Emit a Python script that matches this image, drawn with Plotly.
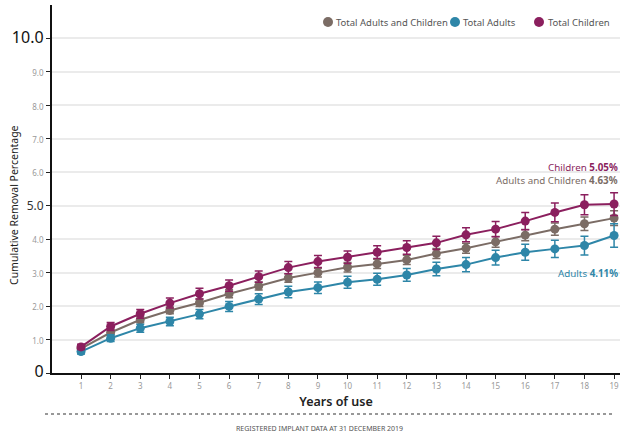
import plotly.graph_objects as go

years = list(range(1, 20))
year_labels = [str(y) for y in years]

total_all = [0.73, 1.21, 1.59, 1.87, 2.10, 2.37, 2.60, 2.84, 3.00, 3.16, 3.26, 3.38, 3.57, 3.73, 3.92, 4.12, 4.30, 4.46, 4.63]
total_all_err = [0.05, 0.08, 0.09, 0.10, 0.11, 0.12, 0.12, 0.13, 0.13, 0.14, 0.14, 0.14, 0.15, 0.15, 0.16, 0.17, 0.18, 0.20, 0.22]

adults = [0.64, 1.04, 1.34, 1.54, 1.76, 1.99, 2.21, 2.42, 2.55, 2.71, 2.80, 2.93, 3.11, 3.24, 3.45, 3.61, 3.71, 3.81, 4.11]
adults_err = [0.07, 0.10, 0.12, 0.13, 0.14, 0.15, 0.16, 0.17, 0.17, 0.18, 0.18, 0.19, 0.20, 0.21, 0.22, 0.24, 0.26, 0.28, 0.35]

children = [0.78, 1.39, 1.77, 2.09, 2.37, 2.61, 2.88, 3.15, 3.33, 3.46, 3.61, 3.75, 3.89, 4.13, 4.30, 4.54, 4.80, 5.03, 5.05]
children_err = [0.08, 0.12, 0.13, 0.15, 0.16, 0.17, 0.17, 0.18, 0.18, 0.19, 0.19, 0.20, 0.20, 0.21, 0.23, 0.26, 0.28, 0.30, 0.34]

y_ticks = [0, 1, 2, 3, 4, 5, 6, 7, 8, 9, 10]
y_tick_labels = ["0", "1.0", "2.0", "3.0", "4.0", "5.0", "6.0", "7.0", "8.0", "9.0", "10.0"]

series_names = ["Total Adults and Children", "Total Adults", "Total Children"]

C_ALL = "#7b6c65"
C_AD = "#2e86a8"
C_CH = "#8b1f5e"
FONT = "Noto Sans"

fig = go.Figure()

for name, vals, err, col in [
    (series_names[0], total_all, total_all_err, C_ALL),
    (series_names[1], adults, adults_err, C_AD),
    (series_names[2], children, children_err, C_CH),
]:
    fig.add_trace(go.Scatter(
        x=years, y=vals, mode="lines+markers", name=name, showlegend=False,
        line=dict(color=col, width=2),
        marker=dict(color=col, size=9),
        error_y=dict(type="data", array=err, visible=True, color=col, thickness=1.5, width=4),
    ))

def fmt_tick(lbl):
    if lbl in ("0", "10.0"):
        return f'<span style="font-size:16px;color:#111">{lbl}</span>'
    if lbl == "5.0":
        return f'<span style="font-size:12px;color:#333">{lbl}</span>'
    return f'<span style="font-size:8px;color:#999">{lbl}</span>'

W, H = 620, 438
ML, MR, MT, MB = 52, 0, 5, 65
PW, PH = W - ML - MR, H - MT - MB

def px_x(px):
    return (px - ML) / PW

def px_y(py):
    return (H - MB - py) / PH

fig.update_layout(
    width=W, height=H,
    margin=dict(l=ML, r=MR, t=MT, b=MB),
    plot_bgcolor="white", paper_bgcolor="white",
    font=dict(family=FONT, color="#333"),
    showlegend=False,
    xaxis=dict(
        range=[0.02, 19.2], tickmode="array", tickvals=years, ticktext=year_labels,
        tickfont=dict(size=8, color="#999"), ticks="outside", ticklen=4, tickcolor="#222",
        showgrid=False, zeroline=False, showline=True, linecolor="#111", linewidth=2,
        title=dict(text="Years of use", font=dict(size=12.5, color="#222", weight=600), standoff=8),
    ),
    yaxis=dict(
        range=[0, 11.0], tickmode="array", tickvals=y_ticks,
        ticktext=[fmt_tick(l) for l in y_tick_labels],
        ticks="outside", ticklen=4, tickcolor="#222",
        showgrid=True, gridcolor="#ebebeb", gridwidth=1.5,
        zeroline=False, showline=True, linecolor="#111", linewidth=2,
    ),
)

# y axis title
fig.add_annotation(x=px_x(14), xref="paper", y=px_y(205), yref="paper",
                   xanchor="center", yanchor="middle",
                   text="Cumulative Removal Percentage", textangle=-90, showarrow=False,
                   font=dict(size=10.5, color="#222"))

# manual legend
for name, col, mx, tx in [
    (series_names[0], C_ALL, 328, 334),
    (series_names[1], C_AD, 455, 461),
    (series_names[2], C_CH, 539, 546),
]:
    fig.add_shape(type="circle", xref="paper", yref="paper",
                  xsizemode="pixel", ysizemode="pixel",
                  xanchor=px_x(mx), yanchor=px_y(22),
                  x0=-5, x1=5, y0=-5, y1=5,
                  fillcolor=col, line=dict(width=0))
    fig.add_annotation(x=px_x(tx), xref="paper", y=px_y(22), yref="paper",
                       text=name, showarrow=False, xanchor="left", yanchor="middle",
                       font=dict(size=9.5, color="#555"))

fig.add_annotation(x=1.0, xref="paper", xanchor="right", y=5.05 + 1.08, yref="y",
                   text='Children <b>5.05%</b>', showarrow=False,
                   font=dict(size=9.8, color=C_CH))
fig.add_annotation(x=1.0, xref="paper", xanchor="right", y=4.63 + 1.12, yref="y",
                   text='Adults and Children <b>4.63%</b>', showarrow=False,
                   font=dict(size=9.8, color=C_ALL))
fig.add_annotation(x=1.0, xref="paper", xanchor="right", y=4.11 - 1.15, yref="y",
                   text='Adults <b>4.11%</b>', showarrow=False,
                   font=dict(size=9.8, color=C_AD))

fig.add_shape(type="line", xref="paper", yref="paper",
              x0=px_x(45), x1=px_x(615), y0=px_y(414), y1=px_y(414),
              line=dict(color="#333", width=1.2, dash="dot"))
fig.add_annotation(x=px_x(319), xref="paper", y=px_y(428), yref="paper", yanchor="middle",
                   text="REGISTERED IMPLANT DATA AT 31 DECEMBER 2019", showarrow=False,
                   font=dict(size=7, color="#555"))

fig.write_html("out.html", config={"displayModeBar": False},
               post_script="document.body.style.margin='0';document.body.style.overflow='hidden';")
